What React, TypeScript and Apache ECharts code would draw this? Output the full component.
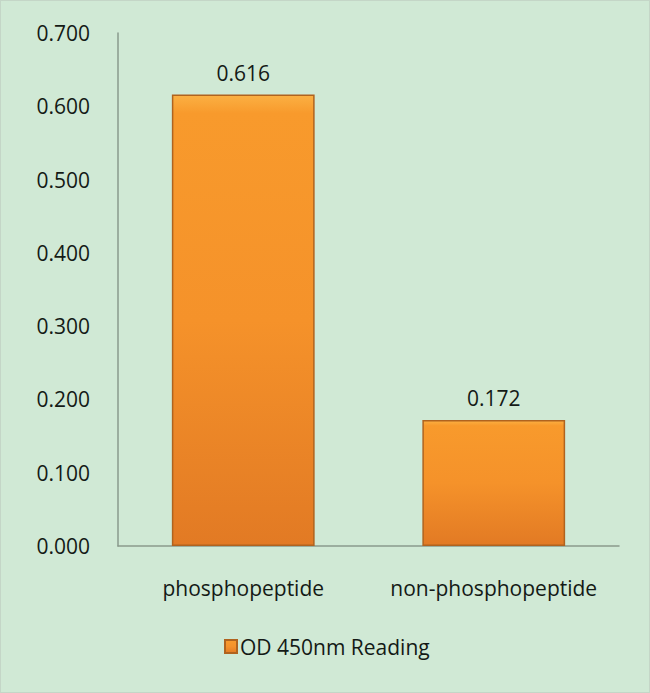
import * as echarts from 'echarts';
import { useEffect, useRef } from 'react';

const categories = ['phosphopeptide', 'non-phosphopeptide'];
const readings = [0.616, 0.172];
const seriesName = 'OD 450nm Reading';
const yTicks = [0, 0.1, 0.2, 0.3, 0.4, 0.5, 0.6, 0.7];

const FONT = "'Open Sans', 'Noto Sans', sans-serif";
const TEXT = '#141a16';

const barColor = new echarts.graphic.LinearGradient(0, 0, 0, 1, [
  { offset: 0, color: '#fbb043' },
  { offset: 0.04, color: '#f89a2c' },
  { offset: 0.5, color: '#f5922a' },
  { offset: 1, color: '#e27a24' },
]);

const App = () => {
  const chartRef = useRef<HTMLDivElement>(null);

  useEffect(() => {
    document.body.style.margin = '0';
    if (!chartRef.current) return;
    const chart = echarts.init(chartRef.current, undefined, { renderer: 'svg' });
    chart.setOption({
      animation: false,
      backgroundColor: '#d0e9d5',
      grid: { left: 117, right: 30, top: 32, bottom: 146 },
      legend: {
        bottom: 30,
        left: 218,
        itemWidth: 12,
        itemHeight: 13,
        itemGap: 6,
        icon: 'rect',
        textStyle: { fontFamily: FONT, fontSize: 21, color: TEXT, padding: [0, 0, 0, -2] },
        data: [seriesName],
      },
      xAxis: {
        type: 'category',
        data: categories,
        axisLine: { lineStyle: { color: '#8a9a8c', width: 1.5 } },
        axisTick: { show: false },
        axisLabel: {
          interval: 0,
          fontFamily: FONT,
          fontSize: 21,
          color: TEXT,
          margin: 31,
        },
      },
      yAxis: {
        type: 'value',
        min: yTicks[0],
        max: yTicks[yTicks.length - 1],
        interval: 0.1,
        splitLine: { show: false },
        axisLine: { show: true, lineStyle: { color: '#8a9a8c', width: 1.5 } },
        axisTick: { show: false },
        axisLabel: {
          fontFamily: FONT,
          fontSize: 21,
          color: TEXT,
          margin: 28,
          formatter: (v: number) => v.toFixed(3),
        },
      },
      series: [
        {
          name: seriesName,
          type: 'bar',
          data: readings,
          barWidth: '57%',
          itemStyle: {
            color: barColor,
            borderColor: '#b0631e',
            borderWidth: 1.5,
          },
          label: {
            show: true,
            position: 'top',
            distance: 11,
            fontFamily: FONT,
            fontSize: 21,
            color: TEXT,
            formatter: (p: { value: number }) => p.value.toFixed(3),
          },
        },
      ],
    });
    return () => chart.dispose();
  }, []);

  return (
    <div
      ref={chartRef}
      style={{ width: 650, height: 693, boxSizing: 'border-box', border: '1px solid #c4d6c7' }}
    />
  );
};

export default App;
